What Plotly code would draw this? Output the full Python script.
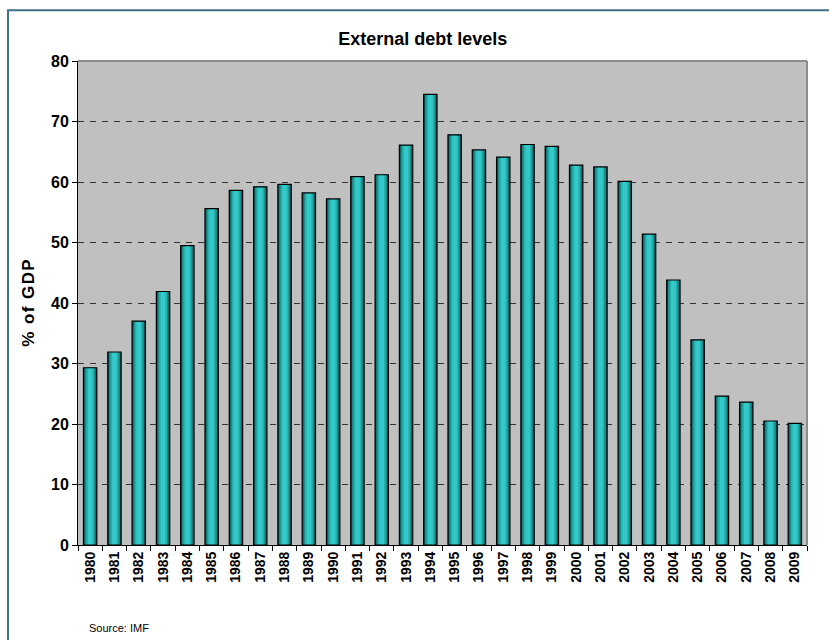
import plotly.graph_objects as go

# External debt, % of GDP (source: IMF)
years = [str(y) for y in range(1980, 2010)]
debt_pct_gdp = [
    29.3, 31.9, 37.0, 41.9, 49.5, 55.6, 58.6, 59.2, 59.6, 58.2,
    57.2, 60.9, 61.2, 66.1, 74.5, 67.8, 65.3, 64.1, 66.2, 65.9,
    62.8, 62.5, 60.1, 51.4, 43.8, 33.9, 24.6, 23.6, 20.5, 20.1,
]
y_ticks = [0, 10, 20, 30, 40, 50, 60, 70, 80]
y_title = "% of GDP"

FONT = "Liberation Sans, Arial, sans-serif"
BAR_W = 0.55


def spaced(s, gap="\u200a"):
    """Widen letter spacing by inserting hair spaces between characters."""
    return gap.join(s)


fig = go.Figure()

# Cylinder-style shading: stacked layers of narrowing, lighter bars
shade_layers = [
    (1.00, "#0e5656"),
    (0.80, "#1b8c8c"),
    (0.58, "#27b0b0"),
    (0.34, "#34c9c9"),
]
for frac, col in shade_layers:
    fig.add_trace(go.Bar(
        x=years, y=debt_pct_gdp, width=BAR_W * frac,
        marker=dict(color=col, line=dict(width=0)),
        hoverinfo="skip", showlegend=False,
    ))

# Black outline on top of the shaded bars
fig.add_trace(go.Bar(
    x=years, y=debt_pct_gdp, width=BAR_W,
    marker=dict(color="rgba(0,0,0,0)", line=dict(color="#000000", width=1.2)),
    showlegend=False, name="% of GDP",
))

fig.update_layout(
    width=829, height=640,
    margin=dict(l=78, r=22, t=61, b=95),
    barmode="overlay",
    paper_bgcolor="white",
    plot_bgcolor="#c0c0c0",
    font=dict(family=FONT, color="#000000"),
    title=dict(
        text="<b>External debt levels</b>",
        x=0.51, xanchor="center", y=0.94, yanchor="middle",
        font=dict(size=18, family=FONT),
    ),
    xaxis=dict(
        type="category",
        showline=True, linecolor="#000000", linewidth=1,
        ticks="outside", ticklen=5, tickcolor="#000000", tickwidth=1,
        tickson="boundaries",
        tickangle=-90,
        tickfont=dict(size=14, family=FONT, weight="bold"),
        showgrid=False,
    ),
    yaxis=dict(
        range=[0, 80],
        tickvals=y_ticks,
        showline=True, linecolor="#000000", linewidth=1,
        ticks="outside", ticklen=5, tickcolor="#000000", tickwidth=1,
        tickfont=dict(size=16, family=FONT, weight="bold"),
        showgrid=True, gridcolor="#333333", gridwidth=1, griddash="6px,6px",
        zeroline=False,
        title=dict(text="<b>" + spaced(y_title) + "</b>",
                   font=dict(size=17, family=FONT), standoff=12),
    ),
    shapes=[
        # top and right edges of the plotting area
        dict(type="line", xref="paper", yref="paper", x0=0, x1=1, y0=1, y1=1,
             line=dict(color="#8c8c8c", width=2)),
        dict(type="line", xref="paper", yref="paper", x0=1, x1=1, y0=0, y1=1,
             line=dict(color="#8c8c8c", width=2)),
        # outer chart frame
        dict(type="rect", xref="paper", yref="paper",
             x0=-0.096, x1=1.2, y0=-0.4, y1=1.105,
             line=dict(color="#3d7088", width=2), fillcolor="rgba(0,0,0,0)",
             layer="above"),
    ],
    annotations=[
        dict(text="Source: IMF", xref="paper", yref="paper",
             x=(87 - 78) / 729, y=(545 - 628) / 484,
             xanchor="left", yanchor="middle", showarrow=False,
             font=dict(size=11, family=FONT, color="#000000")),
    ],
)

fig.write_html("out.html")
